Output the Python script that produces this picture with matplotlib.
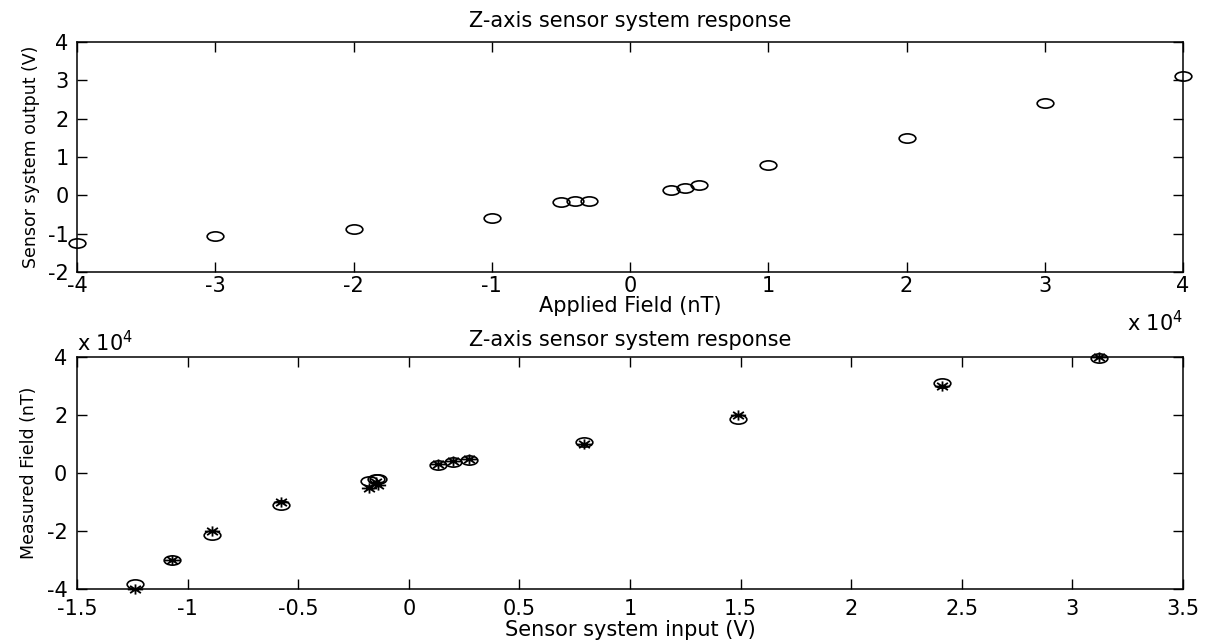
import matplotlib
matplotlib.use("Agg")
import matplotlib.pyplot as plt
from matplotlib.path import Path
from matplotlib.transforms import Affine2D
from matplotlib.ticker import FuncFormatter
import numpy as np

plt.rcParams['font.family'] = ['DejaVu Sans']
plt.rcParams['axes.unicode_minus'] = False

# ---- data ----
applied_nT = [-40000, -30000, -20000, -10000, -5000, -4000, -3000,
              3000, 4000, 5000, 10000, 20000, 30000, 40000]
sensor_V = [-1.24, -1.07, -0.89, -0.58, -0.18, -0.14, -0.15,
            0.13, 0.20, 0.27, 0.79, 1.49, 2.41, 3.12]
measured_nT = [-38400, -30000, -21300, -11200, -2600, -1900, -2000,
               2700, 3700, 4600, 10800, 18700, 31100, 39800]

top_xticks = [-40000, -30000, -20000, -10000, 0, 10000, 20000, 30000, 40000]
top_yticks = [-2, -1, 0, 1, 2, 3, 4]
bot_xticks = [-1.5, -1, -0.5, 0, 0.5, 1, 1.5, 2, 2.5, 3, 3.5]
bot_yticks = [-40000, -20000, 0, 20000, 40000]

title_txt = "Z-axis sensor system response"

# ---- stretched marker shapes (reference is horizontally stretched) ----
ellipse = Path.unit_circle().transformed(Affine2D().scale(1.8, 1.0))
ang = np.deg2rad([0, 45, 90, 135])
verts, codes = [], []
for a in ang:
    verts += [(np.cos(a) * 1.5, np.sin(a)), (-np.cos(a) * 1.5, -np.sin(a))]
    codes += [Path.MOVETO, Path.LINETO]
asterisk = Path(verts, codes)

fig = plt.figure(figsize=(12.1, 6.41), dpi=100)
W, H = 1210, 641
L, R = 77, 1183
ax1 = fig.add_axes([L / W, 1 - 272 / H, (R - L) / W, (272 - 42) / H])
ax2 = fig.add_axes([L / W, 1 - 589 / H, (R - L) / W, (589 - 357) / H])

FS = 15

def style(ax, xpad=3, ypad=6):
    ax.tick_params(direction='in', length=7, width=1, top=True, right=True,
                   labelsize=FS, colors='black')
    ax.tick_params(axis='x', pad=xpad)
    ax.tick_params(axis='y', pad=ypad)
    for s in ax.spines.values():
        s.set_linewidth(1.1)

sci = FuncFormatter(lambda v, p: f"{v / 1e4:g}")
plain = FuncFormatter(lambda v, p: f"{v:g}")

# top
ax1.plot(applied_nT, sensor_V, linestyle='none', marker=ellipse, markersize=12,
         markerfacecolor='none', markeredgecolor='black', markeredgewidth=1.2,
         clip_on=False)
ax1.set_xlim(-40000, 40000)
ax1.set_ylim(-2, 4)
ax1.set_xticks(top_xticks)
ax1.set_yticks(top_yticks)
ax1.xaxis.set_major_formatter(sci)
ax1.yaxis.set_major_formatter(plain)
style(ax1)
ax1.set_title(title_txt, fontsize=FS, pad=11)
ax1.set_xlabel("Applied Field (nT)", fontsize=FS, labelpad=0)
ax1.set_ylabel("Sensor system output (V)", fontsize=12.5, labelpad=6)
ax1.text(1.0, -0.22, r"x 10$^4$", transform=ax1.transAxes, ha='right',
         va='center', fontsize=FS)

# bottom
ax2.plot(sensor_V, measured_nT, linestyle='none', marker=ellipse, markersize=12,
         markerfacecolor='none', markeredgecolor='black', markeredgewidth=1.2,
         clip_on=False)
ax2.plot(sensor_V, applied_nT, linestyle='none', marker=asterisk, markersize=11,
         markerfacecolor='none', markeredgecolor='black', markeredgewidth=1.3,
         clip_on=False)
ax2.set_xlim(-1.5, 3.5)
ax2.set_ylim(-40000, 40000)
ax2.set_xticks(bot_xticks)
ax2.set_yticks(bot_yticks)
ax2.xaxis.set_major_formatter(plain)
ax2.yaxis.set_major_formatter(sci)
style(ax2, xpad=7, ypad=7)
ax2.set_title(title_txt, fontsize=FS, pad=8)
ax2.set_xlabel("Sensor system input (V)", fontsize=FS, labelpad=1)
ax2.set_ylabel("Measured Field (nT)", fontsize=12.5, labelpad=6)
ax2.text(0.0, 1.06, r"x 10$^4$", transform=ax2.transAxes, ha='left',
         va='center', fontsize=FS)

fig.savefig("out.png", dpi=100, facecolor='white')
